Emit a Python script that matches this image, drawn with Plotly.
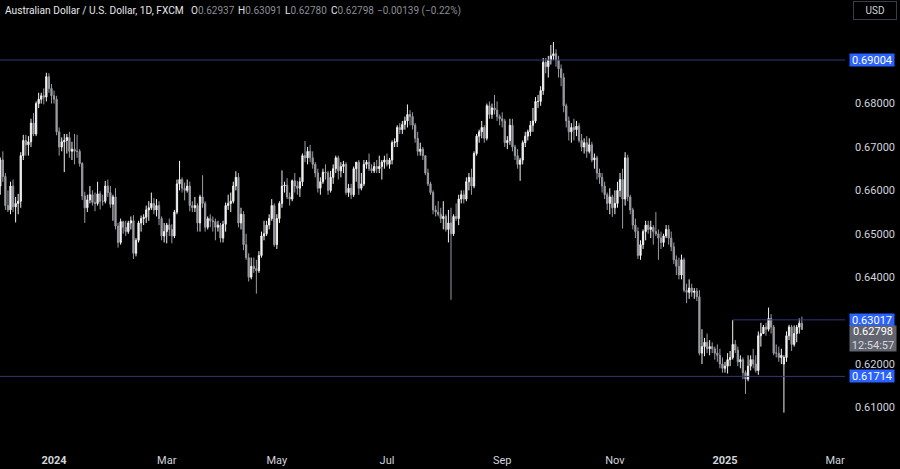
import pandas as pd
import plotly.graph_objects as go

# ---------------- data (AUD/USD daily) ----------------
start_date = "2023-12-01"
end_date = "2025-02-12"

open_ = [
    # Dec 2023
    0.6610,0.6670,0.6632,0.6565,0.6555,0.6610,0.6562,0.6570,0.6575,0.6680,0.6715,0.6705,0.6712,0.6755,0.6730,0.6800,0.6810,0.6818,0.6815,0.6862,0.6835,
    # Jan 2024
    0.6818,0.6810,0.6735,0.6700,0.6712,0.6715,0.6722,0.6690,0.6695,0.6690,0.6690,0.6662,0.6587,0.6560,0.6578,0.6590,0.6572,0.6570,0.6592,0.6575,0.6575,0.6610,0.6595,
    # Feb 2024
    0.6568,0.6585,0.6518,0.6480,0.6528,0.6515,0.6505,0.6525,0.6530,0.6455,0.6485,0.6525,0.6535,0.6538,0.6555,0.6560,0.6570,0.6555,0.6565,0.6535,0.6495,
    # Mar 2024
    0.6505,0.6520,0.6510,0.6495,0.6550,0.6615,0.6625,0.6605,0.6600,0.6610,0.6565,0.6560,0.6565,0.6525,0.6585,0.6570,0.6515,0.6535,0.6530,0.6528,0.6515,
    # Apr 2024
    0.6520,0.6490,0.6522,0.6565,0.6570,0.6575,0.6610,0.6630,0.6525,0.6545,0.6475,0.6445,0.6400,0.6425,0.6420,0.6415,0.6450,0.6495,0.6500,0.6520,0.6535,0.6565,
    # May 2024
    0.6475,0.6535,0.6570,0.6610,0.6612,0.6585,0.6580,0.6622,0.6610,0.6605,0.6620,0.6680,0.6675,0.6690,0.6675,0.6660,0.6640,0.6605,0.6620,0.6642,0.6640,0.6600,0.6630,
    # Jun 2024
    0.6650,0.6675,0.6645,0.6655,0.6660,0.6595,0.6605,0.6590,0.6650,0.6665,0.6605,0.6615,0.6660,0.6665,0.6650,0.6645,0.6655,0.6650,0.6655,0.6665,
    # Jul 2024
    0.6670,0.6660,0.6670,0.6710,0.6712,0.6745,0.6740,0.6752,0.6760,0.6775,0.6770,0.6750,0.6720,0.6690,0.6695,0.6680,0.6640,0.6615,0.6595,0.6555,0.6550,0.6545,0.6535,
    # Aug 2024
    0.6540,0.6510,0.6525,0.6500,0.6540,0.6535,0.6580,0.6590,0.6580,0.6620,0.6630,0.6610,0.6685,0.6725,0.6735,0.6745,0.6720,0.6795,0.6775,0.6790,0.6785,0.6770,
    # Sep 2024
    0.6765,0.6760,0.6710,0.6715,0.6750,0.6700,0.6680,0.6660,0.6670,0.6710,0.6725,0.6735,0.6750,0.6760,0.6805,0.6805,0.6830,0.6895,0.6885,0.6900,0.6910,
    # Oct 2024
    0.6915,0.6900,0.6880,0.6860,0.6795,0.6760,0.6735,0.6745,0.6740,0.6748,0.6715,0.6700,0.6710,0.6690,0.6705,0.6670,0.6675,0.6640,0.6630,0.6610,0.6590,0.6570,0.6585,
    # Nov 2024
    0.6560,0.6570,0.6600,0.6625,0.6580,0.6675,0.6585,0.6555,0.6520,0.6505,0.6450,0.6475,0.6505,0.6520,0.6510,0.6515,0.6505,0.6500,0.6490,0.6480,0.6495,
    # Dec 2024
    0.6510,0.6490,0.6470,0.6440,0.6425,0.6405,0.6440,0.6370,0.6365,0.6375,0.6365,0.6368,0.6355,0.6225,0.6240,0.6250,0.6235,0.6240,0.6235,0.6225,0.6220,0.6200,
    # Jan 2025
    0.6190,0.6195,0.6210,0.6215,0.6245,0.6232,0.6205,0.6210,0.6180,0.6165,0.6195,0.6210,0.6200,0.6185,0.6265,0.6270,0.6285,0.6280,0.6305,0.6285,0.6225,0.6225,0.6215,
    # Feb 2025
    0.6200,0.6215,0.6265,0.6285,0.6245,0.6270,0.6285,0.62937,
]

high = [
    0.6676,0.6690,0.6640,0.6600,0.6620,0.6625,0.6585,0.6592,0.6688,0.6728,0.6728,0.6725,0.6765,0.6778,0.6805,0.6825,0.6825,0.6835,0.6871,0.6870,0.6845,
    0.6830,0.6818,0.6745,0.6722,0.6730,0.6730,0.6735,0.6712,0.6730,0.6728,0.6695,0.6665,0.6597,0.6590,0.6610,0.6600,0.6595,0.6620,0.6598,0.6590,0.6622,0.6625,0.6610,
    0.6590,0.6605,0.6525,0.6535,0.6530,0.6530,0.6530,0.6540,0.6543,0.6490,0.6530,0.6542,0.6545,0.6565,0.6575,0.6595,0.6582,0.6580,0.6575,0.6540,0.6525,
    0.6525,0.6535,0.6522,0.6555,0.6625,0.6668,0.6630,0.6618,0.6625,0.6620,0.6575,0.6585,0.6570,0.6590,0.6635,0.6575,0.6540,0.6545,0.6540,0.6535,0.6530,
    0.6525,0.6530,0.6572,0.6590,0.6595,0.6620,0.6644,0.6640,0.6560,0.6552,0.6500,0.6455,0.6445,0.6445,0.6440,0.6460,0.6505,0.6530,0.6530,0.6545,0.6580,0.6570,
    0.6545,0.6575,0.6646,0.6620,0.6628,0.6595,0.6625,0.6640,0.6622,0.6630,0.6685,0.6714,0.6700,0.6705,0.6690,0.6665,0.6650,0.6630,0.6650,0.6660,0.6645,0.6645,0.6660,
    0.6680,0.6680,0.6665,0.6668,0.6665,0.6615,0.6615,0.6655,0.6665,0.6670,0.6640,0.6670,0.6670,0.6685,0.6660,0.6665,0.6670,0.6680,0.6670,0.6680,
    0.6685,0.6675,0.6715,0.6720,0.6750,0.6755,0.6760,0.6770,0.6798,0.6785,0.6780,0.6755,0.6735,0.6710,0.6700,0.6680,0.6650,0.6620,0.6600,0.6565,0.6575,0.6560,0.6575,
    0.6545,0.6555,0.6560,0.6545,0.6570,0.6590,0.6600,0.6600,0.6630,0.6640,0.6650,0.6690,0.6730,0.6740,0.6760,0.6750,0.6800,0.6805,0.6800,0.6820,0.6805,0.6775,
    0.6780,0.6765,0.6725,0.6765,0.6765,0.6705,0.6695,0.6675,0.6715,0.6735,0.6740,0.6760,0.6790,0.6815,0.6820,0.6840,0.6905,0.6905,0.6910,0.6935,0.6942,
    0.6925,0.6910,0.6890,0.6870,0.6800,0.6770,0.6755,0.6765,0.6760,0.6755,0.6730,0.6720,0.6725,0.6720,0.6712,0.6685,0.6680,0.6650,0.6640,0.6620,0.6595,0.6605,0.6590,
    0.6600,0.6620,0.6640,0.6650,0.6688,0.6682,0.6590,0.6560,0.6535,0.6515,0.6485,0.6510,0.6530,0.6530,0.6530,0.6520,0.6550,0.6510,0.6505,0.6500,0.6520,
    0.6520,0.6505,0.6480,0.6450,0.6445,0.6452,0.6445,0.6385,0.6395,0.6385,0.6375,0.6375,0.6370,0.6280,0.6260,0.6270,0.6255,0.6250,0.6240,0.6245,0.6235,0.6215,
    0.6205,0.6225,0.6230,0.6301,0.6255,0.6240,0.6220,0.6215,0.6185,0.6220,0.6220,0.6235,0.6220,0.6275,0.6295,0.6290,0.6295,0.6330,0.6315,0.6290,0.6245,0.6240,0.6235,
    0.6220,0.6275,0.6290,0.6290,0.6289,0.6290,0.6305,0.63091,
]

low = [
    0.6590,0.6620,0.6555,0.6550,0.6545,0.6550,0.6526,0.6545,0.6560,0.6670,0.6680,0.6680,0.6700,0.6725,0.6725,0.6790,0.6800,0.6798,0.6805,0.6825,0.6800,
    0.6800,0.6727,0.6680,0.6690,0.6642,0.6685,0.6675,0.6670,0.6660,0.6675,0.6655,0.6578,0.6525,0.6550,0.6570,0.6565,0.6552,0.6565,0.6556,0.6565,0.6570,0.6585,0.6560,
    0.6530,0.6510,0.6468,0.6475,0.6500,0.6495,0.6500,0.6510,0.6442,0.6448,0.6480,0.6505,0.6520,0.6525,0.6530,0.6555,0.6545,0.6540,0.6520,0.6485,0.6480,
    0.6478,0.6495,0.6478,0.6490,0.6545,0.6600,0.6595,0.6577,0.6595,0.6552,0.6550,0.6550,0.6505,0.6505,0.6560,0.6505,0.6510,0.6515,0.6505,0.6485,0.6505,
    0.6480,0.6480,0.6505,0.6555,0.6550,0.6570,0.6600,0.6515,0.6510,0.6462,0.6440,0.6390,0.6395,0.6410,0.6362,0.6410,0.6445,0.6485,0.6495,0.6510,0.6530,0.6470,
    0.6465,0.6525,0.6560,0.6595,0.6580,0.6565,0.6575,0.6595,0.6590,0.6585,0.6610,0.6665,0.6660,0.6665,0.6650,0.6630,0.6595,0.6590,0.6615,0.6625,0.6590,0.6595,0.6615,
    0.6640,0.6625,0.6630,0.6640,0.6590,0.6585,0.6580,0.6585,0.6620,0.6590,0.6600,0.6610,0.6650,0.6645,0.6640,0.6640,0.6640,0.6640,0.6625,0.6650,
    0.6655,0.6650,0.6660,0.6700,0.6700,0.6730,0.6730,0.6740,0.6745,0.6750,0.6740,0.6710,0.6680,0.6680,0.6670,0.6635,0.6610,0.6590,0.6545,0.6540,0.6540,0.6525,0.6510,
    0.6505,0.6480,0.6348,0.6495,0.6530,0.6520,0.6570,0.6570,0.6575,0.6600,0.6590,0.6605,0.6680,0.6710,0.6720,0.6710,0.6715,0.6765,0.6765,0.6775,0.6760,0.6750,
    0.6745,0.6700,0.6695,0.6705,0.6690,0.6670,0.6650,0.6622,0.6660,0.6700,0.6715,0.6725,0.6735,0.6755,0.6790,0.6795,0.6820,0.6870,0.6860,0.6890,0.6900,
    0.6885,0.6860,0.6840,0.6780,0.6745,0.6715,0.6710,0.6715,0.6725,0.6710,0.6690,0.6685,0.6675,0.6685,0.6665,0.6650,0.6625,0.6615,0.6595,0.6580,0.6555,0.6545,0.6539,
    0.6545,0.6560,0.6585,0.6512,0.6565,0.6575,0.6545,0.6510,0.6490,0.6442,0.6440,0.6465,0.6485,0.6500,0.6490,0.6475,0.6495,0.6440,0.6465,0.6470,0.6490,
    0.6475,0.6460,0.6430,0.6405,0.6395,0.6395,0.6365,0.6340,0.6350,0.6355,0.6350,0.6345,0.6220,0.6200,0.6218,0.6225,0.6220,0.6225,0.6210,0.6205,0.6190,0.6180,
    0.6180,0.6178,0.6195,0.6210,0.6225,0.6195,0.6190,0.6165,0.6131,0.6160,0.6185,0.6190,0.6180,0.6175,0.6240,0.6270,0.6265,0.6275,0.6270,0.6220,0.6215,0.6205,0.6200,
    0.6088,0.6205,0.6255,0.6230,0.6240,0.6250,0.6270,0.62780,
]

close = [
    0.6670,0.6632,0.6565,0.6555,0.6610,0.6562,0.6570,0.6575,0.6680,0.6715,0.6705,0.6712,0.6755,0.6730,0.6800,0.6810,0.6818,0.6815,0.6862,0.6835,0.6818,
    0.6810,0.6735,0.6700,0.6712,0.6715,0.6722,0.6690,0.6695,0.6690,0.6690,0.6662,0.6587,0.6560,0.6578,0.6590,0.6572,0.6570,0.6592,0.6575,0.6575,0.6610,0.6595,0.6568,
    0.6585,0.6518,0.6480,0.6528,0.6515,0.6505,0.6525,0.6530,0.6455,0.6485,0.6525,0.6535,0.6538,0.6555,0.6560,0.6570,0.6555,0.6565,0.6535,0.6495,0.6505,
    0.6520,0.6510,0.6495,0.6550,0.6615,0.6625,0.6605,0.6600,0.6610,0.6565,0.6560,0.6565,0.6525,0.6585,0.6570,0.6515,0.6535,0.6530,0.6528,0.6515,0.6520,
    0.6490,0.6522,0.6565,0.6570,0.6575,0.6610,0.6630,0.6525,0.6545,0.6475,0.6445,0.6400,0.6425,0.6420,0.6415,0.6450,0.6495,0.6500,0.6520,0.6535,0.6565,0.6475,
    0.6535,0.6570,0.6610,0.6612,0.6585,0.6580,0.6622,0.6610,0.6605,0.6620,0.6680,0.6675,0.6690,0.6675,0.6660,0.6640,0.6605,0.6620,0.6642,0.6640,0.6600,0.6630,0.6650,
    0.6675,0.6645,0.6655,0.6660,0.6595,0.6605,0.6590,0.6650,0.6665,0.6605,0.6615,0.6660,0.6665,0.6650,0.6645,0.6655,0.6650,0.6655,0.6665,0.6670,
    0.6660,0.6670,0.6710,0.6712,0.6745,0.6740,0.6752,0.6760,0.6775,0.6770,0.6750,0.6720,0.6690,0.6695,0.6680,0.6640,0.6615,0.6595,0.6555,0.6550,0.6545,0.6535,0.6540,
    0.6510,0.6525,0.6500,0.6540,0.6535,0.6580,0.6590,0.6580,0.6620,0.6630,0.6610,0.6685,0.6725,0.6735,0.6745,0.6720,0.6795,0.6775,0.6790,0.6785,0.6770,0.6765,
    0.6760,0.6710,0.6715,0.6750,0.6700,0.6680,0.6660,0.6670,0.6710,0.6725,0.6735,0.6750,0.6760,0.6805,0.6805,0.6830,0.6895,0.6885,0.6900,0.6910,0.6915,
    0.6900,0.6880,0.6860,0.6795,0.6760,0.6735,0.6745,0.6740,0.6748,0.6715,0.6700,0.6710,0.6690,0.6705,0.6670,0.6675,0.6640,0.6630,0.6610,0.6590,0.6570,0.6585,0.6560,
    0.6570,0.6600,0.6625,0.6580,0.6675,0.6585,0.6555,0.6520,0.6505,0.6450,0.6475,0.6505,0.6520,0.6510,0.6515,0.6505,0.6500,0.6490,0.6480,0.6495,0.6510,
    0.6490,0.6470,0.6440,0.6425,0.6405,0.6440,0.6370,0.6365,0.6375,0.6365,0.6368,0.6355,0.6225,0.6240,0.6250,0.6235,0.6240,0.6235,0.6225,0.6220,0.6200,0.6190,
    0.6195,0.6210,0.6215,0.6245,0.6232,0.6205,0.6210,0.6180,0.6165,0.6195,0.6210,0.6200,0.6185,0.6265,0.6270,0.6285,0.6280,0.6305,0.6285,0.6225,0.6225,0.6215,0.6220,
    0.6215,0.6265,0.6285,0.6245,0.6270,0.6285,0.6294,0.62798,
]

# month labels on the time axis
month_dates = ["2024-01-01", "2024-03-01", "2024-05-01", "2024-07-01",
               "2024-09-02", "2024-11-01", "2025-01-01", "2025-03-03"]
month_labels = ["<b>2024</b>", "Mar", "May", "Jul", "Sep", "Nov", "<b>2025</b>", "Mar"]

# price axis labels
price_ticks = [0.61, 0.62, 0.64, 0.65, 0.66, 0.67, 0.68]

# horizontal levels
resistance_top = 0.69004
range_top = 0.63017
range_top_start = "2025-01-06"
support = 0.61714
last_price = 0.62798
countdown = "12:54:57"

header_title = "Australian Dollar / U.S. Dollar, 1D, FXCM"
header_keys = ["O", "H", "L", "C"]
header_vals = ["0.62937", "0.63091", "0.62780", "0.62798"]
header_change = "\u22120.00139 (\u22120.22%)"

# ---------------- figure ----------------
dates = pd.bdate_range(start_date, end_date)
axis_days = pd.bdate_range(start_date, "2025-03-31")
assert len(dates) == len(open_) == len(high) == len(low) == len(close)
xpos = list(range(len(dates)))
tickpos = [axis_days.get_loc(pd.Timestamp(d)) for d in month_dates]
x_start_line = axis_days.get_loc(pd.Timestamp(range_top_start))

X_RANGE = [-0.1, 329.85]
Y_RANGE = [0.60110, 0.70387]
PLOT_W = 845.0

UP = "#f2f2f2"
DOWN = "#9a9ca3"
LEVEL = "#33377f"
BLUE = "#2962ff"
AXIS_TXT = "#d1d4dc"
GRAYTXT = "#8b8e97"
FONT = "Liberation Sans Narrow, Roboto, Arial, sans-serif"
FONT2 = "Roboto, Arial, sans-serif"

fig = go.Figure()
fig.add_trace(go.Candlestick(
    x=xpos, open=open_, high=high, low=low, close=close,
    increasing=dict(fillcolor=UP, line=dict(color=UP, width=1)),
    decreasing=dict(fillcolor=DOWN, line=dict(color=DOWN, width=1)),
    whiskerwidth=0, hoverinfo="skip", showlegend=False,
))

shapes = [
    dict(type="line", xref="paper", x0=0, x1=1, yref="y", y0=resistance_top, y1=resistance_top,
         line=dict(color=LEVEL, width=1)),
    dict(type="line", xref="paper", x0=0, x1=1, yref="y", y0=support, y1=support,
         line=dict(color=LEVEL, width=1)),
    dict(type="line", xref="x", x0=x_start_line, x1=X_RANGE[1], yref="y", y0=range_top, y1=range_top,
         line=dict(color=LEVEL, width=1)),
]

annotations = []
for v in [resistance_top, range_top, support]:
    annotations.append(dict(
        xref="paper", x=1, xanchor="left", xshift=4, yref="y", y=v, yanchor="middle",
        text=f"{v:.5f}", showarrow=False, bgcolor=BLUE, width=44, height=12, borderpad=0,
        font=dict(color="#ffffff", size=11, family=FONT), align="center",
    ))
annotations.append(dict(
    xref="paper", x=1, xanchor="left", xshift=4, yref="y", y=last_price, yanchor="top", yshift=4,
    text=f"{last_price:.5f}<br><span style='color:#d6d8de'>{countdown}</span>",
    showarrow=False, bgcolor="#62656f", width=46, height=25, borderpad=0,
    font=dict(color="#ffffff", size=11, family=FONT), align="center",
))

# header: title and OHLC readout
annotations.append(dict(
    xref="paper", yref="paper", x=0, y=1, xanchor="left", yanchor="top", xshift=3, yshift=-3,
    text=header_title, showarrow=False, font=dict(color="#e6e7ea", size=10.2, family=FONT),
))
header_px = [189, 236, 283, 329]
for px, k, val in zip(header_px, header_keys, header_vals):
    annotations.append(dict(
        xref="paper", yref="paper", x=px / PLOT_W, y=1, xanchor="left", yanchor="top", yshift=-3,
        text=f"{k}<span style='color:{GRAYTXT}'>{val}</span>", showarrow=False,
        font=dict(color="#e6e7ea", size=10, family=FONT2),
    ))
annotations.append(dict(
    xref="paper", yref="paper", x=375 / PLOT_W, y=1, xanchor="left", yanchor="top", yshift=-3,
    text=header_change, showarrow=False, font=dict(color=GRAYTXT, size=10, family=FONT2),
))
annotations.append(dict(
    xref="paper", yref="paper", x=1, y=1, xanchor="center", yanchor="top", xshift=30, yshift=-1,
    text="USD", showarrow=False, font=dict(color=AXIS_TXT, size=10, family=FONT),
    bordercolor="#3a3d47", borderwidth=1, borderpad=3, width=36, bgcolor="#000000",
))

fig.update_layout(
    width=900, height=469,
    margin=dict(l=0, r=55, t=0, b=23),
    paper_bgcolor="#000000", plot_bgcolor="#000000",
    shapes=shapes, annotations=annotations,
    xaxis=dict(range=X_RANGE, showgrid=False, zeroline=False, showline=False,
               tickmode="array", tickvals=tickpos, ticktext=month_labels, ticks="",
               tickfont=dict(color=AXIS_TXT, size=11, family=FONT), ticklabelstandoff=6,
               rangeslider=dict(visible=False), fixedrange=True),
    yaxis=dict(range=Y_RANGE, side="right", showgrid=False, zeroline=False, showline=False,
               tickmode="array", tickvals=price_ticks, ticktext=[f"{t:.5f}" for t in price_ticks],
               ticks="", tickfont=dict(color=AXIS_TXT, size=11, family=FONT),
               ticklabelstandoff=9, fixedrange=True),
    hovermode=False,
)

fig.write_html(
    "out.html",
    config={"displayModeBar": False, "staticPlot": True},
    post_script="document.body.style.margin='0px';document.body.style.background='#000';",
)
